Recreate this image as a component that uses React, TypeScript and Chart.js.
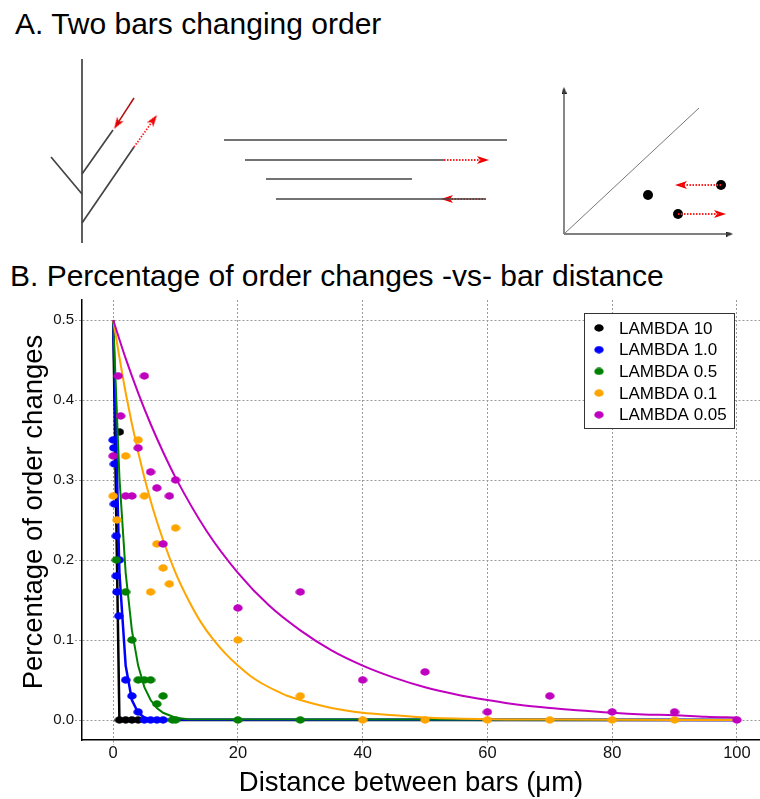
import React, { useEffect, useRef } from "react";
import { Chart, registerables } from "chart.js";

Chart.register(...registerables);

const FONT = "'Liberation Sans', Arial, Helvetica, sans-serif";

// ---------------- Panel B data ----------------
const xTicks = [0, 20, 40, 60, 80, 100];
const yTicks = [0, 0.1, 0.2, 0.3, 0.4, 0.5];
const seriesLabels = ["LAMBDA 10", "LAMBDA 1.0", "LAMBDA 0.5", "LAMBDA 0.1", "LAMBDA 0.05"];
const seriesColors = ["#000000", "#0000ff", "#008000", "#ffa500", "#bf00bf"];

const lambda10PointsX = [1, 1, 2, 3, 4];
const lambda10PointsY = [0.36, 0, 0, 0, 0];
const lambda1PointsX = [0, 0.1, 0.2, 0.2, 0.5, 1, 0.5, 0.6, 0.9, 2, 3, 4, 5, 6, 7, 8];
const lambda1PointsY = [0.35, 0.34, 0.32, 0.27, 0.23, 0.2, 0.18, 0.16, 0.13, 0.05, 0.03, 0.01, 0, 0, 0, 0];
const lambda05PointsX = [0.5, 2, 3, 4, 5, 6, 7, 8, 9.5, 10, 20, 30];
const lambda05PointsY = [0.2, 0.16, 0.1, 0.05, 0.05, 0.05, 0.02, 0.03, 0, 0, 0, 0];
const lambda01PointsX = [4, 2, 0, 5, 0.6, 10, 7, 8, 9, 6, 20, 30, 40, 50, 60, 70, 80, 90];
const lambda01PointsY = [0.35, 0.33, 0.28, 0.28, 0.25, 0.24, 0.22, 0.19, 0.17, 0.16, 0.1, 0.03, 0, 0, 0, 0, 0, 0];
const lambda005PointsX = [0.8, 5, 1.2, 0, 4, 6, 10, 7, 2, 3, 9, 8, 20, 30, 40, 50, 60, 70, 80, 90, 100];
const lambda005PointsY = [0.43, 0.43, 0.38, 0.33, 0.34, 0.31, 0.3, 0.29, 0.28, 0.28, 0.28, 0.22, 0.14, 0.16, 0.05, 0.06, 0.01, 0.03, 0.01, 0.01, 0];

const lambda10CurveX = [0, 1, 100];
const lambda10CurveY = [0.5, 0, 0];
const lambda1CurveX = [0, 1, 2, 3, 4, 5, 6, 7, 100];
const lambda1CurveY = [0.5, 0.184, 0.068, 0.025, 0.009, 0.003, 0.001, 0.0005, 0];
const lambda05CurveX = [0, 1, 2, 3, 4, 5, 6, 7, 8, 9, 10, 11, 12, 100];
const lambda05CurveY = [0.5, 0.303, 0.184, 0.112, 0.068, 0.041, 0.025, 0.015, 0.009, 0.006, 0.003, 0.002, 0.001, 0];
const lambda01CurveX = [0, 2, 4, 6, 8, 10, 12, 14, 16, 18, 20, 22, 24, 26, 28, 30, 35, 40, 45, 50, 60, 70, 80, 90, 100];
const lambda01CurveY = [0.5, 0.409, 0.335, 0.274, 0.225, 0.184, 0.151, 0.123, 0.101, 0.083, 0.068, 0.055, 0.045, 0.037, 0.03, 0.025, 0.015, 0.009, 0.006, 0.003, 0.001, 0.0005, 0.0002, 0.0001, 0];
const lambda005CurveX = [0, 2, 4, 6, 8, 10, 15, 20, 25, 30, 35, 40, 45, 50, 55, 60, 65, 70, 75, 80, 85, 90, 95, 100];
const lambda005CurveY = [0.5, 0.452, 0.409, 0.37, 0.335, 0.303, 0.236, 0.184, 0.143, 0.112, 0.087, 0.068, 0.053, 0.041, 0.032, 0.025, 0.019, 0.015, 0.012, 0.009, 0.007, 0.006, 0.004, 0.003];

const pointXs = [lambda10PointsX, lambda1PointsX, lambda05PointsX, lambda01PointsX, lambda005PointsX];
const pointYs = [lambda10PointsY, lambda1PointsY, lambda05PointsY, lambda01PointsY, lambda005PointsY];
const curveXs = [lambda10CurveX, lambda1CurveX, lambda05CurveX, lambda01CurveX, lambda005CurveX];
const curveYs = [lambda10CurveY, lambda1CurveY, lambda05CurveY, lambda01CurveY, lambda005CurveY];
const curveWidths = [2.5, 2.5, 2, 2, 2];
const curveSmooth = [false, false, false, true, true];

// ---------------- Panel A schematic ----------------
const schematicGreyLines = [
  [82, 59, 82, 243],
  [51, 157, 82, 194],
  [82, 174, 113, 130],
  [82, 223, 134, 147],
  [224, 140, 507, 140],
  [245, 160, 444, 160],
  [266, 179, 412, 179],
  [276, 199, 485, 199],
];
const schematicDiagonal = [564, 234, 699, 108];
const schematicAxes = [
  [564, 234, 564, 87],
  [564, 234, 733, 234],
];
// x1, y1, x2 (tip), y2 (tip), dotted flag
const schematicRedArrows = [
  [134, 98, 114, 129, 0],
  [134, 147, 157, 115, 1],
  [444, 160, 489, 160, 1],
  [486, 199, 441, 199, 1],
  [721, 185, 675, 185, 1],
  [678, 214, 726, 214, 1],
];
const schematicDots = [
  [648, 195],
  [721, 185],
  [678, 214],
];

function ellipseImage(color: string) {
  const c = document.createElement("canvas");
  c.width = 10;
  c.height = 8;
  const g = c.getContext("2d")!;
  g.fillStyle = color;
  g.beginPath();
  g.ellipse(5, 4, 4.7, 3.7, 0, 0, Math.PI * 2);
  g.fill();
  return c;
}

function arrowHeadImage(color: string, w: number, h: number, notch: number) {
  const c = document.createElement("canvas");
  c.width = w;
  c.height = h;
  const g = c.getContext("2d")!;
  g.fillStyle = color;
  g.beginPath();
  g.moveTo(w / 2, 0);
  g.lineTo(w, h);
  g.lineTo(w / 2, h - notch);
  g.lineTo(0, h);
  g.closePath();
  g.fill();
  return c;
}

function arrowDatasets(seg: number[], shaftColor: string, head: HTMLCanvasElement, width: number, dash: number[]) {
  const [x1, y1, x2, y2] = seg;
  const len = Math.hypot(x2 - x1, y2 - y1);
  const ux = (x2 - x1) / len;
  const uy = (y2 - y1) / len;
  const half = head.height / 2;
  const cx = x2 - ux * half;
  const cy = y2 - uy * half;
  const rot = (Math.atan2(ux, -uy) * 180) / Math.PI;
  return [
    {
      data: [{ x: x1, y: y1 }, { x: cx, y: cy }],
      showLine: true,
      borderColor: shaftColor,
      borderWidth: width,
      borderDash: dash,
      pointRadius: 0,
    },
    {
      data: [{ x: cx, y: cy }],
      showLine: false,
      pointStyle: head,
      pointRadius: 4,
      pointRotation: rot,
    },
  ];
}

const boxLegend = {
  id: "boxLegend",
  afterDraw(chart: any) {
    const { ctx, chartArea } = chart;
    const w = 150;
    const h = 115;
    const right = chartArea.right - 26;
    const left = right - w;
    const top = chartArea.top + 13;
    ctx.save();
    ctx.fillStyle = "#ffffff";
    ctx.fillRect(left, top, w, h);
    ctx.strokeStyle = "#333333";
    ctx.lineWidth = 1;
    ctx.strokeRect(Math.round(left) + 0.5, Math.round(top) + 0.5, w, h);
    ctx.font = `17px ${FONT}`;
    ctx.textBaseline = "middle";
    ctx.fillStyle = "#000000";
    const items = chart.data.datasets.filter((d: any) => !d.showLine);
    items.forEach((d: any, i: number) => {
      const y = top + 15 + i * 21.7;
      const img = d.pointStyle as HTMLCanvasElement;
      ctx.drawImage(img, left + 15 - img.width / 2, y - img.height / 2);
      ctx.fillText(d.label, left + 35, y + 1);
    });
    ctx.restore();
  },
};

function SchematicChart() {
  const ref = useRef<HTMLCanvasElement>(null);
  useEffect(() => {
    const redHead = arrowHeadImage("#ee0000", 8, 12, 3);
    const blackHead = arrowHeadImage("#000000", 5, 7, 0);
    const datasets: any[] = [];
    schematicGreyLines.forEach((s) => {
      datasets.push({
        data: [{ x: s[0], y: s[1] }, { x: s[2], y: s[3] }],
        showLine: true,
        borderColor: "#444444",
        borderWidth: 1.7,
        pointRadius: 0,
      });
    });
    datasets.push({
      data: [{ x: schematicDiagonal[0], y: schematicDiagonal[1] }, { x: schematicDiagonal[2], y: schematicDiagonal[3] }],
      showLine: true,
      borderColor: "#777777",
      borderWidth: 1,
      pointRadius: 0,
    });
    schematicAxes.forEach((s) => {
      datasets.push(...arrowDatasets(s, "#555555", blackHead, 1.4, []));
    });
    schematicRedArrows.forEach((s) => {
      const dotted = s[4] === 1;
      datasets.push(...arrowDatasets(s, dotted ? "#ff2020" : "#b01010", redHead, dotted ? 1.8 : 1.5, dotted ? [1.5, 1.5] : []));
    });
    datasets.push({
      data: schematicDots.map((p) => ({ x: p[0], y: p[1] })),
      showLine: false,
      pointRadius: 5,
      pointBackgroundColor: "#000000",
      pointBorderColor: "#000000",
      pointBorderWidth: 0,
    });
    const chart = new Chart(ref.current!, {
      type: "scatter",
      data: { datasets },
      options: {
        animation: false,
        responsive: false,
        events: [],
        layout: { padding: 0, autoPadding: false },
        plugins: { legend: { display: false }, tooltip: { enabled: false }, title: { display: false } },
        scales: {
          x: { type: "linear", min: 0, max: 760, display: false },
          y: { type: "linear", min: 40, max: 255, reverse: true, display: false },
        },
      } as any,
    });
    return () => chart.destroy();
  }, []);
  return <canvas ref={ref} width={760} height={215} style={{ position: "absolute", left: 0, top: 40 }} />;
}

function DecayChart() {
  const ref = useRef<HTMLCanvasElement>(null);
  useEffect(() => {
    const datasets: any[] = [];
    seriesLabels.forEach((label, i) => {
      const img = ellipseImage(seriesColors[i]);
      datasets.push({
        label,
        data: pointXs[i].map((x, k) => ({ x, y: pointYs[i][k] })),
        showLine: false,
        pointStyle: img,
        pointRadius: 4,
        order: 20 - i * 2,
      });
      datasets.push({
        label: label + " fit",
        data: curveXs[i].map((x, k) => ({ x, y: curveYs[i][k] })),
        showLine: true,
        borderColor: seriesColors[i],
        borderWidth: curveWidths[i],
        pointRadius: 0,
        tension: 0,
        cubicInterpolationMode: curveSmooth[i] ? "monotone" : "default",
        order: 19 - i * 2,
      });
    });
    const gridColor = "#9a9a9a";
    const chart = new Chart(ref.current!, {
      type: "scatter",
      data: { datasets },
      options: {
        animation: false,
        responsive: false,
        events: [],
        layout: { padding: { top: 10, left: 0, right: 0, bottom: 0 }, autoPadding: false },
        plugins: { legend: { display: false }, tooltip: { enabled: false }, title: { display: false } },
        scales: {
          x: {
            type: "linear",
            min: -5,
            max: 103.7,
            afterBuildTicks: (s: any) => {
              s.ticks = xTicks.map((v) => ({ value: v }));
            },
            afterFit: (s: any) => {
              s.height = 59;
              s.paddingLeft = 0;
              s.paddingRight = 0;
            },
            grid: { color: gridColor, lineWidth: 1, tickLength: 5, tickColor: gridColor, tickBorderDash: [2, 2], tickWidth: 1 },
            border: { display: true, color: "#000000", width: 1.5, dash: [2, 2] },
            ticks: {
              color: "#111111",
              font: { family: FONT, size: 16.5 },
              padding: -1,
              maxRotation: 0,
              autoSkip: false,
              callback: (v: any) => String(v),
            },
          },
          y: {
            type: "linear",
            min: -0.025,
            max: 0.525,
            afterBuildTicks: (s: any) => {
              s.ticks = yTicks.map((v) => ({ value: v }));
            },
            afterFit: (s: any) => {
              s.width = 82;
              s.paddingTop = 0;
              s.paddingBottom = 0;
            },
            grid: { color: gridColor, lineWidth: 1, tickLength: 7, tickColor: gridColor, tickBorderDash: [2, 2], tickWidth: 1 },
            border: { display: true, color: "#000000", width: 1.5, dash: [2, 2] },
            ticks: {
              color: "#111111",
              font: { family: FONT, size: 15 },
              padding: 1,
              autoSkip: false,
              callback: (v: any) => Number(v).toFixed(1),
            },
          },
        },
      } as any,
      plugins: [boxLegend],
    });
    return () => chart.destroy();
  }, []);
  return <canvas ref={ref} width={760} height={509} style={{ position: "absolute", left: 0, top: 290 }} />;
}

export default function App() {
  const text: React.CSSProperties = {
    position: "absolute",
    whiteSpace: "nowrap",
    color: "#000",
    fontFamily: FONT,
  };
  return (
    <div
      style={{
        position: "fixed",
        left: 0,
        top: 0,
        width: 760,
        height: 799,
        overflow: "hidden",
        background: "#ffffff",
      }}
    >
      <div style={{ ...text, left: 15, top: 9, fontSize: 30, lineHeight: "30px" }}>A. Two bars changing order</div>
      <SchematicChart />
      <div style={{ ...text, left: 10, top: 261, fontSize: 30, lineHeight: "30px" }}>
        B. Percentage of order changes -vs- bar distance
      </div>
      <DecayChart />
      <div
        style={{
          ...text,
          left: 33 - 220,
          top: 512 - 14,
          width: 440,
          height: 28,
          lineHeight: "28px",
          fontSize: 27.5,
          textAlign: "center",
          transform: "rotate(-90deg)",
          transformOrigin: "50% 50%",
        }}
      >
        Percentage of order changes
      </div>
      <div
        style={{
          ...text,
          left: 411 - 220,
          top: 768,
          width: 440,
          height: 28,
          lineHeight: "28px",
          fontSize: 27.5,
          textAlign: "center",
        }}
      >
        Distance between bars (μm)
      </div>
    </div>
  );
}
